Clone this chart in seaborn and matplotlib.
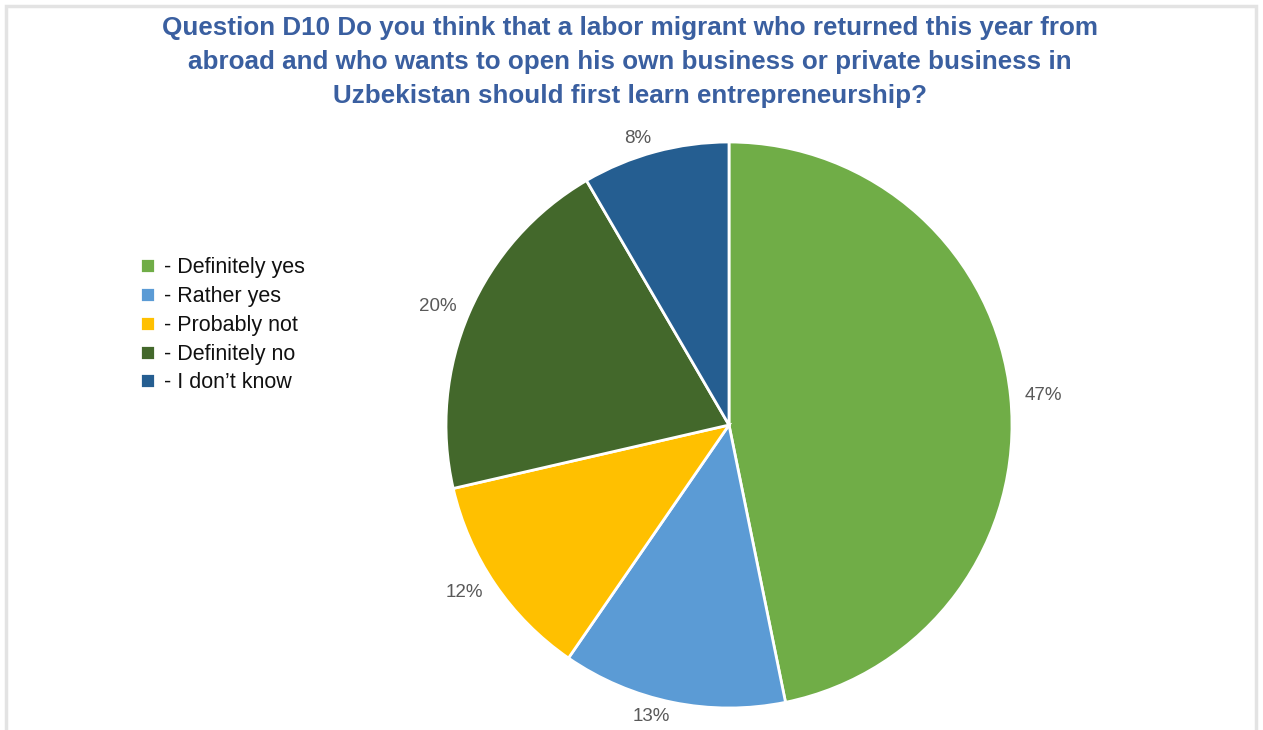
import matplotlib
matplotlib.use("Agg")
import matplotlib.pyplot as plt
import seaborn as sns
from matplotlib.patches import Rectangle

sns.set_theme(style="white")
plt.rcParams['font.family'] = ['Liberation Sans', 'DejaVu Sans']

categories = ["- Definitely yes", "- Rather yes", "- Probably not", "- Definitely no", "- I don\u2019t know"]
values = [46.8, 12.8, 11.8, 20.2, 8.4]
colors = ["#70AD47", "#5B9BD5", "#FFC000", "#43682B", "#255E91"]
title = ("Question D10 Do you think that a labor migrant who returned this year from\n"
         "abroad and who wants to open his own business or private business in\n"
         "Uzbekistan should first learn entrepreneurship?")

W, H = 1263, 730
fig = plt.figure(figsize=(W / 100, H / 100), dpi=100)
fig.patch.set_facecolor("white")

cx, cy, r = 729, 425, 283
ax = fig.add_axes([(cx - r) / W, (H - cy - r) / H, 2 * r / W, 2 * r / H])
wedges, texts = ax.pie(
    values, colors=colors, startangle=90, counterclock=False,
    labels=[f"{v:.0f}%" for v in values], labeldistance=1.05,
    wedgeprops=dict(edgecolor="white", linewidth=2),
    textprops=dict(color="#595959", fontsize=13.5),
)
ax.set_xlim(-1, 1)
ax.set_ylim(-1, 1)
ax.set_aspect("equal")
ax.axis("off")

fig.text(630 / W, 1 - 62 / H, title, ha="center", va="center", fontsize=18.7,
         fontweight="bold", color="#3A5FA0", linespacing=1.55)

fig.legend(wedges, categories, loc="upper left", bbox_to_anchor=(121 / W, 1 - 238 / H),
           frameon=False, handlelength=0.7, handleheight=0.7,
           handletextpad=0.4, labelspacing=0.36, labelcolor="#111111",
           prop=dict(size=15.5))

fig.patches.append(Rectangle((6 / W, -0.05), 1250 / W, 1 - 6 / H + 0.05, transform=fig.transFigure,
                             fill=False, edgecolor="#E3E3E3", linewidth=2.5))

fig.savefig("out.png", dpi=100, facecolor="white")
